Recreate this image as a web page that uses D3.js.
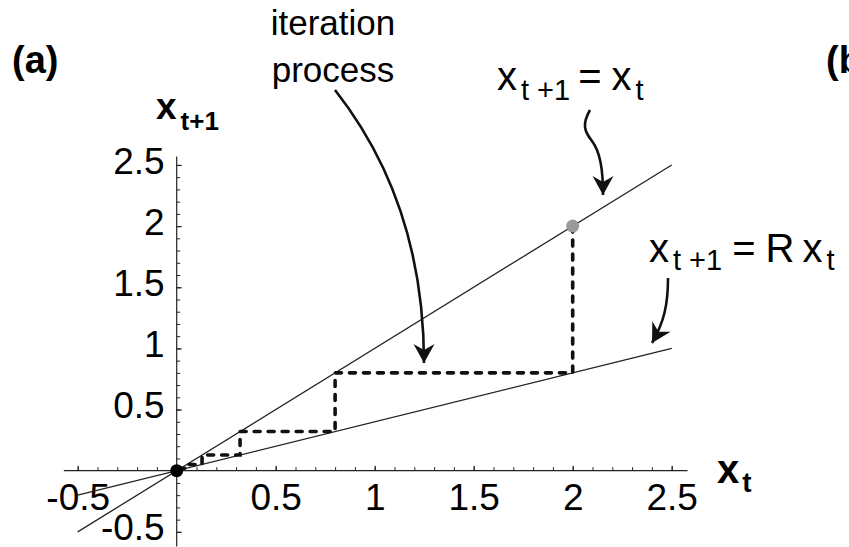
<!DOCTYPE html>
<html>
<head>
<meta charset="utf-8">
<script src="https://cdn.jsdelivr.net/npm/d3@7"></script>
<style>
  html, body { margin: 0; padding: 0; background: #fff; }
  svg { display: block; font-family: "Liberation Sans", Arial, Helvetica, sans-serif; }
</style>
</head>
<body>
<svg id="chart" width="849" height="547"></svg>
<script>
// Linear map x_{t+1} = R x_t with R = 0.4, compared to the identity line
const lineSlopes = [1, 0.4];            // identity and R
const lineExtent = [-0.5, 2.5];          // x range of both lines
const iterates = [2, 0.8, 0.32, 0.128, 0.0512, 0.0205]; // x_0, x_1, ...
const startPoint = [2, 2];
const fixedPoint = [0, 0];
const xTickLabels = [-0.5, 0.5, 1, 1.5, 2, 2.5];
const yTickLabels = [-0.5, 0.5, 1, 1.5, 2, 2.5];
const minorTicks = d3.range(-5, 26).map(i => i / 10);

const svg = d3.select("#chart");
const x = d3.scaleLinear().domain([-0.5, 2.5]).range([77.7, 671.7]);
const y = d3.scaleLinear().domain([-0.5, 2.5]).range([531.85, 164.95]);
const fmt = d => String(d);

// arrowhead
const defs = svg.append("defs");
defs.append("marker")
  .attr("id", "head")
  .attr("markerUnits", "userSpaceOnUse")
  .attr("viewBox", "-20 -12 22 24")
  .attr("refX", 0).attr("refY", 0)
  .attr("markerWidth", 22).attr("markerHeight", 24)
  .attr("orient", "auto")
  .append("path")
  .attr("d", "M0,0 L-19,-10.5 L-13,0 L-19,10.5 Z")
  .attr("fill", "#111");

// axes
const gx = svg.append("g").attr("transform", `translate(0,${y(0)})`);
gx.append("line").attr("x1", x(-0.57)).attr("x2", x(2.58))
  .attr("stroke", "#222").attr("stroke-width", 1.2);
gx.append("g").call(d3.axisTop(x).tickValues(minorTicks).tickSize(3.5).tickFormat(""))
  .call(g => g.select(".domain").remove())
  .call(g => g.selectAll("line").attr("stroke", "#222").attr("stroke-width", 1));
gx.append("g").call(d3.axisBottom(x).tickValues(xTickLabels).tickSizeInner(-5).tickSizeOuter(0).tickPadding(13).tickFormat(fmt))
  .call(g => g.select(".domain").remove())
  .call(g => g.selectAll("line").attr("stroke", "#222").attr("stroke-width", 1.2))
  .call(g => g.selectAll("text").attr("fill", "#000").attr("font-size", 37)
    .attr("font-family", "'Liberation Sans', Arial, sans-serif"));

const gy = svg.append("g").attr("transform", `translate(${x(0)},0)`);
gy.append("line").attr("y1", y(2.57)).attr("y2", y(-0.62))
  .attr("stroke", "#222").attr("stroke-width", 1.2);
gy.append("g").call(d3.axisRight(y).tickValues(minorTicks).tickSize(3.5).tickFormat(""))
  .call(g => g.select(".domain").remove())
  .call(g => g.selectAll("line").attr("stroke", "#222").attr("stroke-width", 1));
gy.append("g").call(d3.axisLeft(y).tickValues(yTickLabels).tickSizeInner(-5).tickSizeOuter(0).tickPadding(12).tickFormat(fmt))
  .call(g => g.select(".domain").remove())
  .call(g => g.selectAll("line").attr("stroke", "#222").attr("stroke-width", 1.2))
  .call(g => g.selectAll("text").attr("fill", "#000").attr("font-size", 37).attr("dy", "0.22em")
    .attr("font-family", "'Liberation Sans', Arial, sans-serif"));

// the two lines
svg.append("g").selectAll("line").data(lineSlopes).join("line")
  .attr("x1", x(lineExtent[0])).attr("x2", x(lineExtent[1]))
  .attr("y1", s => y(s * lineExtent[0])).attr("y2", s => y(s * lineExtent[1]))
  .attr("stroke", "#222").attr("stroke-width", 1.3);

// cobweb path
const cob = [];
iterates.forEach((a, i) => {
  if (i === 0) cob.push([a, a]);
  if (i < iterates.length - 1) {
    const b = iterates[i + 1];
    cob.push([a, b], [b, b]);
  }
});
svg.append("path")
  .attr("d", d3.line().x(d => x(d[0])).y(d => y(d[1]))(cob))
  .attr("fill", "none").attr("stroke", "#111").attr("stroke-width", 3.6)
  .attr("stroke-linecap", "round")
  .attr("stroke-dasharray", "6,8");

// points
svg.append("circle").attr("cx", x(startPoint[0])).attr("cy", y(startPoint[1])).attr("r", 6.5).attr("fill", "#9a9a9a");
svg.append("circle").attr("cx", x(fixedPoint[0])).attr("cy", y(fixedPoint[1])).attr("r", 6.5).attr("fill", "#000");

// axis titles
const ylab = svg.append("text").attr("x", 156).attr("y", 119).attr("font-weight", "bold").attr("font-size", 37);
ylab.append("tspan").text("x");
ylab.append("tspan").attr("font-size", 26).attr("dx", 4).attr("dy", 11).text("t+1");

const xlab = svg.append("text").attr("x", 717).attr("y", 483).attr("font-weight", "bold").attr("font-size", 40);
xlab.append("tspan").text("x");
xlab.append("tspan").attr("font-size", 28).attr("dx", 3).attr("dy", 9).text("t");

// panel letters
svg.append("text").attr("x", 12).attr("y", 73).attr("font-weight", "bold").attr("font-size", 38).text("(a)");
svg.append("text").attr("x", 826).attr("y", 73).attr("font-weight", "bold").attr("font-size", 38).text("(b)");

// annotations
const ann = svg.append("text").attr("font-size", 35).attr("text-anchor", "middle");
ann.append("tspan").attr("x", 333).attr("y", 35).text("iteration");
ann.append("tspan").attr("x", 333).attr("y", 82).text("process");

const eq1 = svg.append("text").attr("x", 497).attr("y", 90).attr("font-size", 40);
eq1.append("tspan").text("x");
eq1.append("tspan").attr("font-size", 29).attr("dx", 4).attr("dy", 10).text("t +1");
eq1.append("tspan").attr("dx", 8).attr("dy", -10).text("=");
eq1.append("tspan").attr("dx", 10).text("x");
eq1.append("tspan").attr("font-size", 29).attr("dx", 4).attr("dy", 10).text("t");

const eq2 = svg.append("text").attr("x", 649).attr("y", 262).attr("font-size", 40);
eq2.append("tspan").text("x");
eq2.append("tspan").attr("font-size", 29).attr("dx", 4).attr("dy", 8).text("t +1");
eq2.append("tspan").attr("dx", 10).attr("dy", -8).text("=");
eq2.append("tspan").attr("dx", 10).text("R");
eq2.append("tspan").attr("dx", 8).text("x");
eq2.append("tspan").attr("font-size", 29).attr("dx", 4).attr("dy", 8).text("t");

// curved arrows
const arrows = [
  "M335,90 C390,160 424,250 424,363",
  "M590,110 C582,124 584,131 592,141 C600,152 603,168 603,195",
  "M668,278 C668,305 664,322 652,343"
];
svg.append("g").selectAll("path").data(arrows).join("path")
  .attr("d", d => d)
  .attr("fill", "none").attr("stroke", "#111").attr("stroke-width", 2.6)
  .attr("marker-end", "url(#head)");
</script>
</body>
</html>
